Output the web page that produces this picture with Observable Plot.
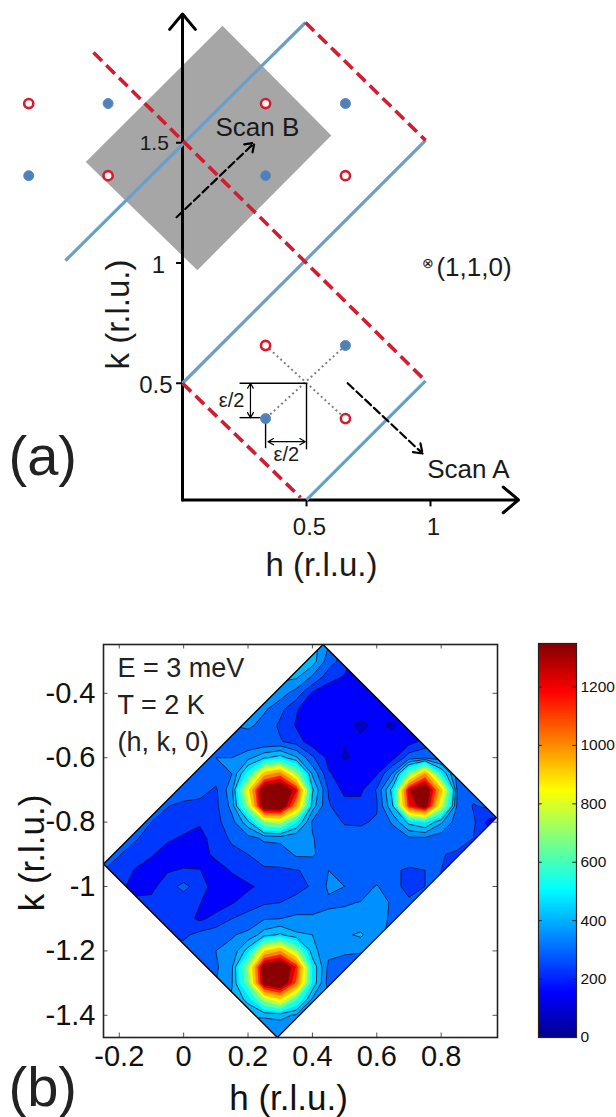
<!DOCTYPE html>
<html><head><meta charset="utf-8">
<script src="https://cdn.jsdelivr.net/npm/d3@7"></script>
<script src="https://cdn.jsdelivr.net/npm/@observablehq/plot@0.6"></script>
<style>
html,body{margin:0;padding:0;background:#fff}
#page{position:relative;width:616px;height:1117px;overflow:hidden}
#page svg{position:absolute;font-family:"Liberation Sans",Arial,sans-serif}
</style></head><body><div id="page"></div>
<script>
// ---------- panel (a): reciprocal-space sketch, values in r.l.u.
const greyH=[0.161,0.6,0.06,-0.39], greyK=[1.987,1.53,0.97,1.42];
const blueLines=[[[-0.472,1.01],[0.496,2.0]],[[0,0.5],[0.98,1.51]],[[0.5,0.015],[0.98,0.51]]];
const redLines=[[[-0.359,1.875],[0.98,0.51]],[[0.496,2.0],[0.98,1.51]],[[0,0.5],[0.476,0.025]]];
const redH=[-0.62,-0.3,0.335,0.657,0.335,0.657], redK=[1.663,1.363,1.663,1.363,0.657,0.353];
const blueH=[-0.3,-0.62,0.657,0.335,0.657,0.335], blueK=[1.663,1.363,1.663,1.363,0.657,0.353];
const dotted=[[[0.335,0.657],[0.657,0.353]],[[0.657,0.657],[0.335,0.353]]];
const dimLines=[[[0.23,0.5],[0.5,0.5]],[[0.23,0.357],[0.335,0.357]],[[0.5,0.5],[0.5,0.225]],[[0.335,0.353],[0.335,0.23]]];
const dimArrows=[[0.274,0.43,0.274,0.5],[0.274,0.43,0.274,0.357],[0.42,0.257,0.345,0.257],[0.42,0.257,0.495,0.257]];
const scanArrows=[[-0.024,1.19,0.29,1.5],[0.666,0.5,0.968,0.208]];
const aHTicks=[0.5,1], aKTicks=[0.5,1,1.5];
const aNotes=[["Scan B",0.302,1.563,26],["Scan A",1.153,0.141,26],["(1,1,0)",1.024,0.98,26],["⊗",0.988,0.998,14],["ε/2",0.198,0.428,20],["ε/2",0.419,0.204,20]];
// ---------- panel (b): intensity map, one row per k from -0.25 in steps of -0.05, columns h from -0.25 in steps of 0.05
const r00=[420,420,420,420,420,420,420,420,420,420,420,420,420,420,330,250,200,180,170,170,180,200,240,280,300,300];
const r01=[420,420,420,420,420,420,420,420,420,420,420,420,420,420,300,240,190,175,170,170,180,200,240,280,300,300];
const r02=[400,400,400,400,400,400,400,400,400,400,400,400,400,320,240,215,185,170,170,170,180,200,250,290,300,300];
const r03=[360,360,360,360,360,360,360,360,360,360,360,360,300,210,185,175,170,168,170,172,185,205,250,290,300,300];
const r04=[345,345,345,345,345,345,345,345,345,345,340,285,225,178,170,165,165,170,170,175,190,210,260,290,300,300];
const r05=[330,330,330,330,330,330,330,330,330,345,305,260,215,165,160,155,130,150,130,175,200,225,270,295,300,300];
const r06=[320,320,320,320,320,320,320,320,285,280,275,275,245,190,165,145,150,150,175,200,235,285,300,305,305,305];
const r07=[320,320,320,320,320,320,320,330,330,370,440,480,400,280,205,130,165,170,205,300,320,300,295,300,305,305];
const r08=[320,320,320,320,320,320,320,300,330,540,900,1000,700,380,225,200,195,215,340,650,960,520,300,305,305,305];
const r09=[320,320,320,320,320,305,295,260,370,820,1300,1340,1130,460,265,205,210,275,480,1170,1310,900,320,300,290,290];
const r10=[300,300,300,300,272,255,250,255,350,700,1300,1320,950,420,275,240,235,265,450,1100,1260,750,320,265,285,285];
const r11=[300,300,300,270,250,245,225,250,310,430,680,720,520,320,280,268,265,275,340,470,520,400,295,280,200,200];
const r12=[300,300,275,250,230,212,205,240,280,310,340,350,335,335,290,280,285,285,290,320,320,295,285,270,240,240];
const r13=[285,272,250,225,195,190,195,235,255,270,295,290,340,340,290,285,295,285,285,290,280,272,265,260,260,260];
const r14=[270,255,215,195,215,225,222,190,225,255,262,265,268,278,330,290,285,285,275,265,270,270,265,260,260,260];
const r15=[250,240,190,205,250,285,245,195,195,210,235,245,255,275,340,330,300,335,290,250,270,270,265,265,265,265];
const r16=[240,240,240,235,240,240,222,195,215,245,262,270,285,300,320,325,332,345,325,280,270,270,265,265,265,265];
const r17=[240,240,240,240,245,240,210,235,270,290,325,330,345,340,345,345,345,340,325,285,280,280,280,280,280,280];
const r18=[260,260,260,260,260,260,285,300,325,345,420,460,400,390,350,380,400,340,320,320,320,320,320,320,320,320];
const r19=[290,290,290,290,290,290,300,330,345,480,850,950,700,410,350,340,335,320,300,300,300,300,300,300,300,300];
const r20=[300,300,300,300,300,300,300,320,380,700,1270,1340,1100,500,315,300,300,300,300,300,300,300,300,300,300,300];
const r21=[330,330,330,330,330,330,330,330,385,650,1240,1320,1020,500,300,300,300,300,300,300,300,300,300,300,300,300];
const r22=[330,330,330,330,330,330,330,330,400,470,720,850,600,380,340,320,320,320,320,320,320,320,320,320,320,320];
const r23=[380,380,380,380,380,380,380,380,380,400,400,410,380,330,320,320,320,320,320,320,320,320,320,320,320,320];
const r24=[330,330,330,330,330,330,330,330,330,330,340,345,300,300,300,300,300,300,300,300,300,300,300,300,300,300];
const r25=[320,320,320,320,320,320,320,320,320,320,320,320,320,320,320,320,320,320,320,320,320,320,320,320,320,320];
const intensity=[r00,r01,r02,r03,r04,r05,r06,r07,r08,r09,r10,r11,r12,r13,r14,r15,r16,r17,r18,r19,r20,r21,r22,r23,r24,r25].flat();
const levels=[0,140,220,270,330,390,450,510,590,680,760,850,950,1040,1110,1180];
const levelColors=["#0000cc","#0000ff","#0038ff","#0060ff","#0090ff","#00b8ff","#00e0ff","#10fff0","#60ffa0","#b0ff50","#ffff00","#ffc000","#ff8000","#ff2000","#d80000","#8b0000"];
const lineLevels=[140,220,270,330,390,450];
const diamondH=[0.433,0.972,0.291,-0.249], diamondK=[-0.2484,-0.786,-1.469,-0.93];
const bHTicks=[-0.2,0,0.2,0.4,0.6,0.8], bKTicks=[-0.4,-0.6,-0.8,-1,-1.2,-1.4];
const bNotes=["E = 3 meV","T = 2 K","(h, k, 0)"];
const cbTicks=[0,200,400,600,800,1000,1200];
const jetStops=[0,148,506,843,1180,1349], jetColors=["#00008f","#0000ff","#00ffff","#ffff00","#ff0000","#800000"];

const page=document.getElementById("page");
const seg=l=>l.map(([a,b])=>({x1:a[0],y1:a[1],x2:b[0],y2:b[1]}));
const arr=l=>l.map(([x1,y1,x2,y2])=>({x1,y1,x2,y2}));
const poly=(H,K)=>H.map((h,i)=>({h,k:K[i]}));

const a=Plot.plot({width:616,height:610,margin:0,
  x:{domain:[-0.7339,1.75],axis:null},y:{domain:[-0.4449,2.0915],axis:null},
  style:{background:"transparent"},
  marks:[
    Plot.line(poly(greyH,greyK),{x:"h",y:"k",fill:"#a6a6a6",stroke:"none"}),
    Plot.link(seg(dotted),{x1:"x1",y1:"y1",x2:"x2",y2:"y2",stroke:"#808080",strokeWidth:2,strokeDasharray:"2 3"}),
    Plot.link(seg(dimLines),{x1:"x1",y1:"y1",x2:"x2",y2:"y2",stroke:"#000",strokeWidth:1.4}),
    Plot.arrow(arr(dimArrows),{x1:"x1",y1:"y1",x2:"x2",y2:"y2",stroke:"#000",strokeWidth:1.2,headLength:8}),
    Plot.arrow([{x1:0,y1:0.015,x2:0,y2:2.035},{x1:0,y1:0.015,x2:1.355,y2:0.015}],{x1:"x1",y1:"y1",x2:"x2",y2:"y2",stroke:"#000",strokeWidth:3,headLength:10,headAngle:80}),
    Plot.ruleX(aHTicks,{y1:0.015,y2:-0.014,stroke:"#000",strokeWidth:2}),
    Plot.ruleY(aKTicks,{x1:-0.024,x2:0,stroke:"#000",strokeWidth:2}),
    Plot.link(seg(blueLines),{x1:"x1",y1:"y1",x2:"x2",y2:"y2",stroke:"#6a9fcb",strokeWidth:3.2}),
    Plot.link(seg(redLines),{x1:"x1",y1:"y1",x2:"x2",y2:"y2",stroke:"#d01e30",strokeWidth:3.6,strokeDasharray:"12 6"}),
    Plot.arrow(arr(scanArrows),{x1:"x1",y1:"y1",x2:"x2",y2:"y2",stroke:"#000",strokeWidth:2.2,strokeDasharray:"8 4",headLength:7,headAngle:70}),
    Plot.dot(poly(redH,redK),{x:"h",y:"k",r:4.6,fill:"#fff",stroke:"#d01e30",strokeWidth:2.6}),
    Plot.dot(poly(blueH,blueK),{x:"h",y:"k",r:5,fill:"#4f81b8",stroke:"#5a8dc0",strokeWidth:1}),
    ...aNotes.map(([t,h,k,size])=>Plot.text([t],{x:()=>h,y:()=>k,fontSize:size,fill:"#1a1a1a",textAnchor:t==="(1,1,0)"?"start":"middle"})),
    Plot.text([0.5],{x:()=>-0.04,y:d=>d,text:d=>String(d),fontSize:24,fill:"#1a1a1a",textAnchor:"end",dy:2}),
    Plot.text([1],{x:()=>-0.07,y:d=>d,text:d=>String(d),fontSize:24,fill:"#1a1a1a",textAnchor:"end",dy:2}),
    Plot.text([1.5],{x:()=>-0.055,y:d=>d,text:d=>String(d),fontSize:21,fill:"#1a1a1a",textAnchor:"end",dy:1}),
    Plot.text(aHTicks,{x:d=>d,y:()=>-0.1,text:d=>String(d),fontSize:24,fill:"#1a1a1a",dx:3}),
    Plot.text(["h (r.l.u.)"],{frameAnchor:"top-left",dx:321,dy:565,fontSize:33,fill:"#1a1a1a",textAnchor:"middle",lineAnchor:"middle"}),
    Plot.text(["k (r.l.u.)"],{frameAnchor:"top-left",dx:118,dy:314,fontSize:33,fill:"#1a1a1a",rotate:-90,textAnchor:"middle",lineAnchor:"middle"}),
    Plot.text(["(a)"],{frameAnchor:"top-left",dx:8,dy:457,fontSize:56,fill:"#222",textAnchor:"start",lineAnchor:"middle"})
  ]});
a.style.left="0px";a.style.top="0px";page.append(a);

const grid={width:26,height:26,x1:-0.275,x2:1.025,y1:-0.225,y2:-1.525};
const b=Plot.plot({width:520,height:507,marginLeft:103,marginRight:23,marginTop:34,marginBottom:80,
  x:{domain:[-0.249,0.975],axis:null},y:{domain:[-1.469,-0.2484],axis:null},
  style:{background:"transparent"},
  marks:[
    ...levels.map((t,i)=>Plot.contour(intensity,{...grid,thresholds:[t],fill:levelColors[i],stroke:levelColors[i],strokeWidth:0.3,clip:true})),
    Plot.contour(intensity,{...grid,thresholds:lineLevels,stroke:"#101030",strokeWidth:0.8,fill:"none",clip:true}),
    Plot.line(poly([-0.249,0.433,-0.249],[-0.2484,-0.2484,-0.93]),{x:"h",y:"k",fill:"#fff",stroke:"none"}),
    Plot.line(poly([0.433,0.975,0.975,0.972],[-0.2484,-0.2484,-0.786,-0.786]),{x:"h",y:"k",fill:"#fff",stroke:"none"}),
    Plot.line(poly([0.972,0.975,0.975,0.291],[-0.786,-0.786,-1.469,-1.469]),{x:"h",y:"k",fill:"#fff",stroke:"none"}),
    Plot.line(poly([-0.249,-0.249,0.291],[-0.93,-1.469,-1.469]),{x:"h",y:"k",fill:"#fff",stroke:"none"}),
    Plot.line(poly([...diamondH,diamondH[0]],[...diamondK,diamondK[0]]),{x:"h",y:"k",stroke:"#000",strokeWidth:1.3}),
    Plot.ruleX(bHTicks,{y1:-1.469,y2:-1.455,stroke:"#555"}),
    Plot.ruleX(bHTicks,{y1:-0.2624,y2:-0.2484,stroke:"#555"}),
    Plot.ruleY(bKTicks,{x1:-0.249,x2:-0.235,stroke:"#555"}),
    Plot.ruleY(bKTicks,{x1:0.961,x2:0.975,stroke:"#555"}),
    Plot.frame({stroke:"#222",strokeWidth:1.6}),
    Plot.axisX({ticks:bHTicks,tickSize:0,tickPadding:8,fontSize:29,tickFormat:d=>String(d),label:null,fill:"#111"}),
    Plot.axisY({ticks:bKTicks,tickSize:0,tickPadding:8,fontSize:29,tickFormat:d=>String(d),label:null,fill:"#111"}),
    ...bNotes.map((t,i)=>Plot.text([t],{frameAnchor:"top-left",dx:14,dy:24+i*37,fontSize:27,fill:"#222",textAnchor:"start",lineAnchor:"middle"})),
    Plot.text(["h (r.l.u.)"],{frameAnchor:"bottom",dx:-12,dy:61,fontSize:35,fill:"#111",textAnchor:"middle",lineAnchor:"middle"}),
    Plot.text(["k (r.l.u.)"],{frameAnchor:"left",dx:-71,dy:12,fontSize:35,fill:"#111",rotate:-90,textAnchor:"middle",lineAnchor:"middle"}),
    Plot.text(["(b)"],{frameAnchor:"bottom-left",dx:-95,dy:51,fontSize:56,fill:"#222",textAnchor:"start",lineAnchor:"middle"})
  ]});
b.style.left="0px";b.style.top="610px";page.append(b);

const jet=d3.scaleLinear().domain(jetStops.map(v=>v/1349)).range(jetColors);
const cbSteps=d3.range(0,1349,5);
const c=Plot.plot({width:96,height:507,marginLeft:18,marginRight:40,marginTop:33,marginBottom:80,
  x:{domain:[0,1],axis:null},y:{domain:[0,1349],axis:null},
  color:{type:"linear",domain:[0,1349],interpolate:t=>jet(t)},
  style:{background:"transparent"},
  marks:[
    Plot.rect(cbSteps,{x1:()=>0,x2:()=>1,y1:d=>d,y2:d=>d+10,fill:d=>d,clip:true,inset:0}),
    Plot.ruleY(cbTicks,{x1:0,x2:0.1,stroke:"#222"}),
    Plot.ruleY(cbTicks,{x1:0.9,x2:1,stroke:"#222"}),
    Plot.frame({stroke:"#222",strokeWidth:1.2}),
    Plot.axisY({anchor:"right",ticks:cbTicks,tickSize:0,tickPadding:4,fontSize:15.5,tickFormat:d=>String(d),label:null,fill:"#111"})
  ]});
c.style.left="520px";c.style.top="610px";page.append(c);
</script></body></html>
